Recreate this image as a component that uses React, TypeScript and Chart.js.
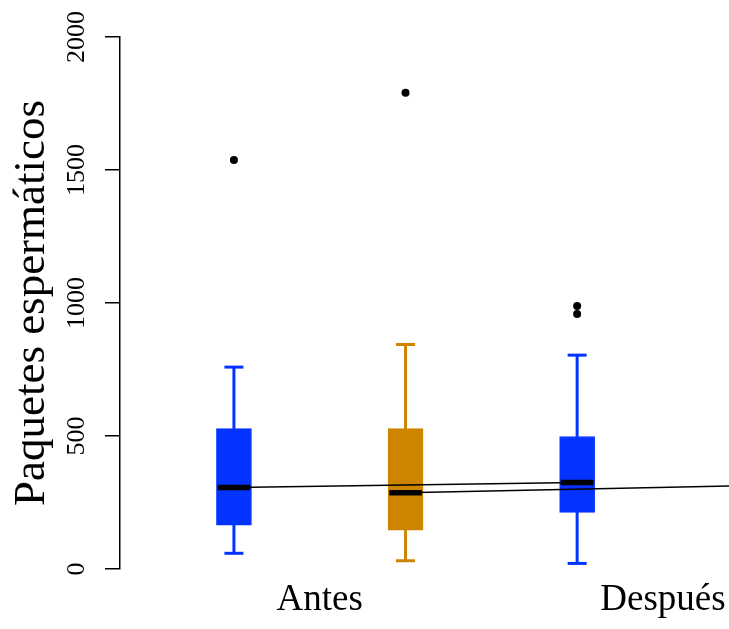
import React, { useEffect, useRef } from "react";
import { Chart, registerables } from "chart.js";

Chart.register(...registerables);

// ---- data ----
const groupPos = [1, 2, 3];
const boxColors = ["#0433ff", "#cd8500", "#0433ff"];
const whiskerLow = [59, 31, 21];
const q1 = [165, 146, 213];
const q3 = [528, 528, 498];
const whiskerHigh = [759, 844, 804];
// medians for all four groups (the fourth lies past the right edge)
const medianPos = [1, 2, 3, 4];
const medianVals = [306, 287, 325, 314];
const outlierX = [1, 2, 3, 3];
const outlierY = [1538, 1790, 989, 959];
const pairs: [number, number][] = [
  [1, 3],
  [2, 4],
];
const xTickPositions = [1.5, 3.5];
const xLabels = ["Antes", "Después"];
const yTickValues = [0, 500, 1000, 1500, 2000];
const yTitle = "Paquetes espermáticos";

const SERIF = "'Liberation Serif', 'Times New Roman', serif";

export default function App() {
  const ref = useRef<HTMLCanvasElement | null>(null);

  useEffect(() => {
    if (!ref.current) return;
    const medOf = (p: number) => medianVals[medianPos.indexOf(p)];

    const whiskerSets = groupPos.map((p, i) => ({
      type: "line" as const,
      data: [
        { x: p, y: whiskerLow[i] },
        { x: p, y: whiskerHigh[i] },
      ],
      borderColor: boxColors[i],
      borderWidth: 3,
      pointRadius: 0,
      order: 6,
    }));

    const capData: any[] = [];
    const capColors: string[] = [];
    groupPos.forEach((p, i) => {
      capData.push({ x: p, y: whiskerLow[i] });
      capData.push({ x: p, y: whiskerHigh[i] });
      capColors.push(boxColors[i], boxColors[i]);
    });

    const pairSets = pairs.map(([a, b]) => ({
      type: "line" as const,
      data: [
        { x: a, y: medOf(a) },
        { x: b, y: medOf(b) },
      ],
      borderColor: "#000",
      borderWidth: 1.5,
      pointRadius: 0,
      order: 2,
    }));

    const chart = new Chart(ref.current, {
      type: "bar",
      data: {
        datasets: [
          ...whiskerSets,
          {
            type: "bar",
            data: groupPos.map((p, i) => ({ x: p, y: [q1[i], q3[i]] })) as any,
            backgroundColor: boxColors,
            borderColor: boxColors,
            borderWidth: 1,
            borderSkipped: false,
            barThickness: 35,
            grouped: false,
            order: 5,
          } as any,
          {
            type: "scatter",
            data: capData,
            pointStyle: "line",
            pointRadius: 9.5,
            pointBorderWidth: 3,
            pointBorderColor: capColors,
            pointBackgroundColor: capColors,
            order: 4,
          } as any,
          {
            type: "scatter",
            data: medianPos.map((p, i) => ({ x: p, y: medianVals[i] })),
            pointStyle: "line",
            pointRadius: 16.3,
            pointBorderWidth: 5.5,
            pointBorderColor: "#000",
            order: 3,
          } as any,
          ...pairSets,
          {
            type: "scatter",
            data: outlierX.map((x, i) => ({ x, y: outlierY[i] })),
            pointStyle: "circle",
            pointRadius: 4,
            pointBorderWidth: 0,
            pointBackgroundColor: "#000",
            order: 1,
          } as any,
        ],
      },
      options: {
        responsive: false,
        animation: false,
        devicePixelRatio: 1,
        layout: { autoPadding: false, padding: { top: 37, left: 0, right: 0, bottom: 0 } },
        plugins: { legend: { display: false }, tooltip: { enabled: false } },
        scales: {
          x: {
            type: "linear",
            min: 0.336,
            max: 3.885,
            offset: false,
            grid: { display: false, drawTicks: false, offset: false },
            border: { display: false },
            afterBuildTicks: (scale: any) => {
              scale.ticks = xTickPositions.map((v) => ({ value: v }));
            },
            afterFit: (scale: any) => {
              scale.height = 60;
              scale.paddingLeft = 0;
              scale.paddingRight = 0;
            },
            ticks: {
              autoSkip: false,
              maxRotation: 0,
              minRotation: 0,
              padding: 9,
              color: "#000",
              font: { family: SERIF, size: 37 },
              callback: (_v: any, i: number) => xLabels[i],
            },
          },
          y: {
            type: "linear",
            min: 0,
            max: 2000,
            afterBuildTicks: (scale: any) => {
              scale.ticks = yTickValues.map((v) => ({ value: v }));
            },
            afterFit: (scale: any) => {
              scale.width = 120;
              scale.paddingTop = 0;
              scale.paddingBottom = 0;
            },
            grid: {
              drawOnChartArea: false,
              drawTicks: true,
              tickLength: 15,
              color: "#000",
              lineWidth: 1.5,
            },
            border: { display: true, color: "#000", width: 1.5 },
            ticks: {
              autoSkip: false,
              minRotation: 90,
              maxRotation: 90,
              crossAlign: "center",
              padding: 2,
              color: "#000",
              font: { family: SERIF, size: 26 },
              callback: (v: any) => String(v),
            },
            title: {
              display: true,
              text: yTitle,
              color: "#000",
              font: { family: SERIF, size: 45, lineHeight: 1 },
              padding: { top: 10, bottom: 0 },
            },
          },
        },
      } as any,
    });
    return () => chart.destroy();
  }, []);

  return (
    <div style={{ position: "fixed", left: 0, top: 0, width: 729, height: 629, background: "#fff" }}>
      <canvas ref={ref} width={729} height={629} />
    </div>
  );
}
